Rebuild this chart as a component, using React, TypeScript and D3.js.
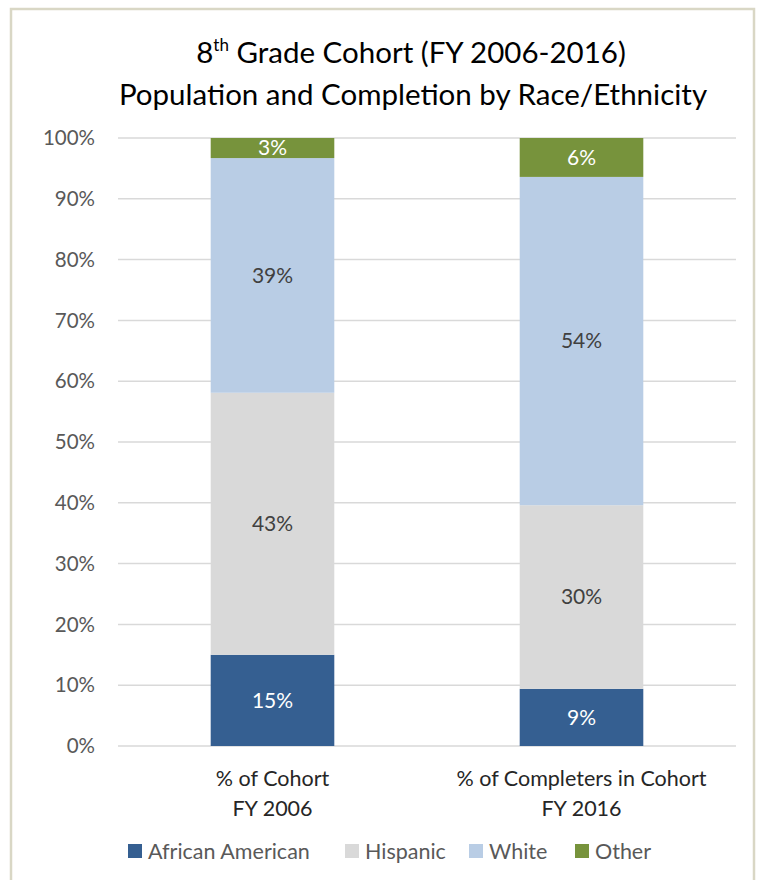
import React from "react";
import * as d3 from "d3";

const categories = ["% of Cohort|FY 2006", "% of Completers in Cohort|FY 2016"];
const seriesNames = ["African American", "Hispanic", "White", "Other"];
const africanAmerican = [15.0, 9.4];
const hispanic = [43.1, 30.2];
const white = [38.6, 54.0];
const other = [3.3, 6.4];
const yTicks = [0, 10, 20, 30, 40, 50, 60, 70, 80, 90, 100];

const colors = ["#355F91", "#D9D9D9", "#B9CDE5", "#77933C"];
const labelColors = ["#FFFFFF", "#404040", "#404040", "#FFFFFF"];
const FONT = "Lato, 'Open Sans', sans-serif";

export default function App() {
  const W = 757, H = 880;
  const left = 118, right = 736, top = 138, bottom = 746;
  const y = d3.scaleLinear().domain([0, 100]).range([bottom, top]);
  const x = d3.scaleBand<string>().domain(categories).range([left, right]).paddingInner(0.6).paddingOuter(0.3);

  const table = categories.map((c, i) => ({
    cat: c,
    "African American": africanAmerican[i],
    Hispanic: hispanic[i],
    White: white[i],
    Other: other[i],
  }));
  const stacked = d3.stack<any>().keys(seriesNames)(table);

  const legendItems = [
    { name: "African American", x: 128 },
    { name: "Hispanic", x: 345 },
    { name: "White", x: 469 },
    { name: "Other", x: 575 },
  ];

  return (
    <svg width={W} height={H} style={{ position: "absolute", left: 0, top: 0, background: "#fff" }} fontFamily={FONT}>
      <rect x={0} y={0} width={W} height={H} fill="#fff" />
      <rect x={11} y={9} width={743} height={H} fill="#fff" stroke="#D9D7C5" strokeWidth={2.5} />
      <text x={411} y={63} textAnchor="middle" fontSize={29.5} fill="#000">
        8<tspan fontSize={17} dy={-12}>th</tspan>
        <tspan dy={12}> Grade Cohort (FY 2006-2016)</tspan>
      </text>
      <text x={413} y={105} textAnchor="middle" fontSize={29.5} fill="#000">
        Population and Completion by Race/Ethnicity
      </text>
      {yTicks.map((t) => (
        <g key={t}>
          <line x1={left} x2={right} y1={y(t)} y2={y(t)} stroke="#D9D9D9" strokeWidth={1.5} />
          <text x={95} y={y(t)} dy="0.35em" textAnchor="end" fontSize={20.5} fill="#595959">
            {t}%
          </text>
        </g>
      ))}
      {stacked.map((s, si) => (
        <g key={s.key}>
          {s.map((d, i) => {
            const cat = categories[i];
            const y0 = y(d[0]), y1 = y(d[1]);
            const val = d[1] - d[0];
            return (
              <g key={cat}>
                <rect x={x(cat)} y={y1} width={x.bandwidth()} height={y0 - y1} fill={colors[si]} />
                <text
                  x={(x(cat) as number) + x.bandwidth() / 2}
                  y={(y0 + y1) / 2}
                  dy="0.35em"
                  textAnchor="middle"
                  fontSize={21}
                  fill={labelColors[si]}
                >
                  {Math.round(val)}%
                </text>
              </g>
            );
          })}
        </g>
      ))}
      {categories.map((c) => {
        const cx = (x(c) as number) + x.bandwidth() / 2;
        const lines = c.split("|");
        return (
          <text key={c} x={cx} y={786} textAnchor="middle" fontSize={21.5} fill="#262626">
            {lines.map((l, li) => (
              <tspan key={li} x={cx} dy={li === 0 ? 0 : 30}>
                {l}
              </tspan>
            ))}
          </text>
        );
      })}
      {legendItems.map((it, i) => (
        <g key={it.name}>
          <rect x={it.x} y={844} width={14} height={14} fill={colors[i]} />
          <text x={it.x + 20} y={851} dy="0.35em" fontSize={21.5} fill="#595959">
            {it.name}
          </text>
        </g>
      ))}
    </svg>
  );
}
